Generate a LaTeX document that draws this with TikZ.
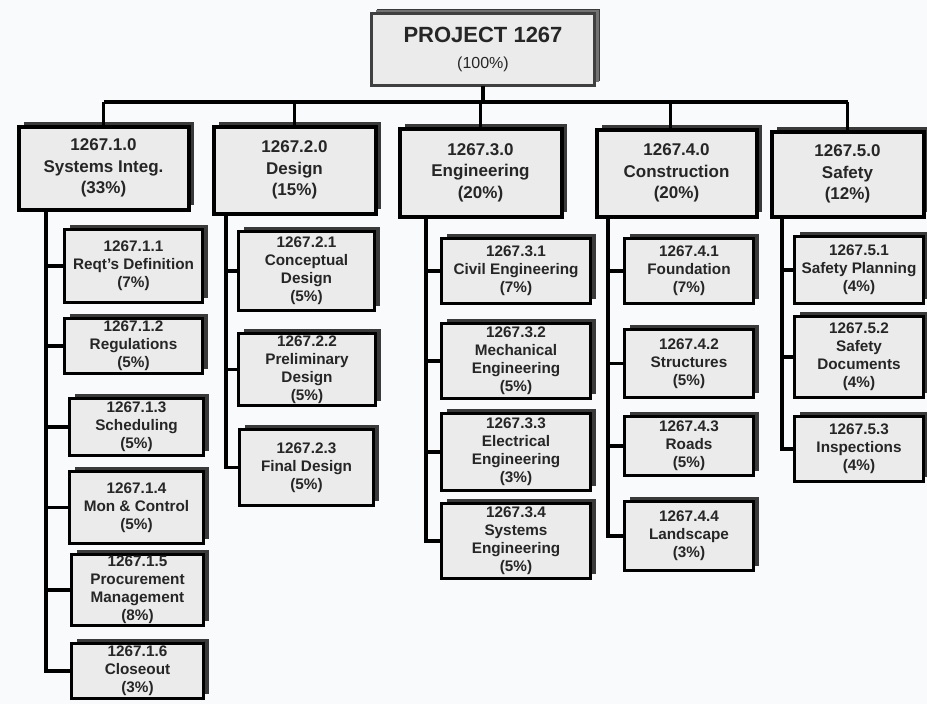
\documentclass[tikz,border=0pt]{standalone}
\usepackage{fontspec}
\setmainfont{Liberation Sans}
\usetikzlibrary{shadows}

\definecolor{boxfill}{HTML}{EBEBEB}
\definecolor{boxshade}{HTML}{3A3A3A}
\definecolor{inkgray}{HTML}{262626}
\definecolor{paper}{HTML}{F8FAFC}

\tikzset{
  wbs/.style={draw=black, fill=boxfill, text=inkgray, align=center,
    inner sep=0pt, outer sep=0pt,
    general shadow={fill=boxshade, shadow xshift=5pt, shadow yshift=5pt}},
  rootbox/.style={wbs, draw=black!75, line width=3pt,
    font=\fontsize{22}{26}\selectfont\bfseries,
    general shadow={fill=black!55, shadow xshift=4pt, shadow yshift=4pt}},
  phasebox/.style={wbs, line width=4pt,
    font=\fontsize{17}{21.5}\selectfont\bfseries},
  taskbox/.style={wbs, line width=3pt,
    font=\fontsize{15.3}{18}\selectfont\bfseries},
  link/.style={draw=black, line width=3.5pt}
}

% box given by its outer corners: name, style, x1, y1, x2, y2, text
\newcommand\wbsbox[7]{%
  \node[#2, minimum width={(#5)-(#3)-3}, minimum height={(#6)-(#4)-3}]
    (#1) at ({((#3)+(#5))/2},{((#4)+(#6))/2}) {#7};}

\begin{document}
\begin{tikzpicture}[x=1pt,y=-1pt]
  \useasboundingbox[fill=paper] (0,0) rectangle (927,704);

  % project root
  \wbsbox{top}{rootbox}{370}{12}{596}{87}%
    {PROJECT 1267\\{\fontsize{16}{20}\selectfont\mdseries (100\%)}}

  % phases
  \wbsbox{p1}{phasebox}{17}{125}{190}{211}{1267.1.0\\Systems Integ.\\(33\%)}
  \wbsbox{p2}{phasebox}{212}{125}{377}{215}{1267.2.0\\Design\\(15\%)}
  \wbsbox{p3}{phasebox}{398}{127}{563}{218}{1267.3.0\\Engineering\\(20\%)}
  \wbsbox{p4}{phasebox}{595}{128}{758}{218}{1267.4.0\\Construction\\(20\%)}
  \wbsbox{p5}{phasebox}{770}{130}{925}{218}{1267.5.0\\Safety\\(12\%)}

  % 1267.1 tasks
  \wbsbox{c11}{taskbox}{63}{228}{204}{304}{1267.1.1\\Reqt's Definition\\(7\%)}
  \wbsbox{c12}{taskbox}{63}{317}{204}{375}{1267.1.2\\Regulations\\(5\%)}
  \wbsbox{c13}{taskbox}{68}{397}{205}{457}{1267.1.3\\Scheduling\\(5\%)}
  \wbsbox{c14}{taskbox}{68}{470}{205}{545}{1267.1.4\\Mon \& Control\\(5\%)}
  \wbsbox{c15}{taskbox}{70}{553}{205}{627}{1267.1.5\\Procurement\\Management\\(8\%)}
  \wbsbox{c16}{taskbox}{70}{642}{205}{700}{1267.1.6\\Closeout\\(3\%)}

  % 1267.2 tasks
  \wbsbox{c21}{taskbox}{237}{230}{376}{312}{1267.2.1\\Conceptual\\Design\\(5\%)}
  \wbsbox{c22}{taskbox}{237}{332}{377}{407}{1267.2.2\\Preliminary\\Design\\(5\%)}
  \wbsbox{c23}{taskbox}{238}{428}{375}{507}{1267.2.3\\Final Design\\(5\%)}

  % 1267.3 tasks
  \wbsbox{c31}{taskbox}{440}{237}{592}{305}{1267.3.1\\Civil Engineering\\(7\%)}
  \wbsbox{c32}{taskbox}{440}{322}{592}{400}{1267.3.2\\Mechanical\\Engineering\\(5\%)}
  \wbsbox{c33}{taskbox}{440}{412}{592}{492}{1267.3.3\\Electrical\\Engineering\\(3\%)}
  \wbsbox{c34}{taskbox}{440}{502}{592}{580}{1267.3.4\\Systems\\Engineering\\(5\%)}

  % 1267.4 tasks
  \wbsbox{c41}{taskbox}{623}{237}{755}{305}{1267.4.1\\Foundation\\(7\%)}
  \wbsbox{c42}{taskbox}{623}{328}{755}{399}{1267.4.2\\Structures\\(5\%)}
  \wbsbox{c43}{taskbox}{623}{415}{755}{477}{1267.4.3\\Roads\\(5\%)}
  \wbsbox{c44}{taskbox}{623}{500}{755}{572}{1267.4.4\\Landscape\\(3\%)}

  % 1267.5 tasks
  \wbsbox{c51}{taskbox}{793}{235}{925}{305}{1267.5.1\\Safety Planning\\(4\%)}
  \wbsbox{c52}{taskbox}{793}{315}{925}{399}{1267.5.2\\Safety\\Documents\\(4\%)}
  \wbsbox{c53}{taskbox}{793}{415}{925}{483}{1267.5.3\\Inspections\\(4\%)}

  % horizontal bus under the root
  \coordinate (bus) at (483,102);
  \draw[link] (top.south) -- (top.south |- bus);
  \draw[link] (p1.north |- bus) -- (p5.north |- bus);
  \foreach \p in {p1,p2,p3,p5}
    \draw[link] (\p.north |- bus) -- (\p.north);
  \draw[link] ([xshift=-6]p4.north |- bus) -- ([xshift=-6]p4.north);

  % spines down the left of each phase
  \coordinate (x1) at (46,0);
  \coordinate (x2) at (226,0);
  \coordinate (x3) at (426,0);
  \coordinate (x4) at (608,0);
  \coordinate (x5) at (782,0);
  \coordinate (s1) at (x1 |- p1.south);
  \coordinate (s2) at (x2 |- p2.south);
  \coordinate (s3) at (x3 |- p3.south);
  \coordinate (s4) at (x4 |- p4.south);
  \coordinate (s5) at (x5 |- p5.south);

  \foreach \c in {c11,c12,c13,c14,c15,c16}
    \draw[link] (s1) |- (\c.west);
  \foreach \c in {c21,c22,c23}
    \draw[link] (s2) |- (\c.west);
  \foreach \c in {c31,c32,c33,c34}
    \draw[link] (s3) |- (\c.west);
  \foreach \c in {c41,c42,c43,c44}
    \draw[link] (s4) |- (\c.west);
  \foreach \c in {c51,c52,c53}
    \draw[link] (s5) |- (\c.west);
\end{tikzpicture}
\end{document}
